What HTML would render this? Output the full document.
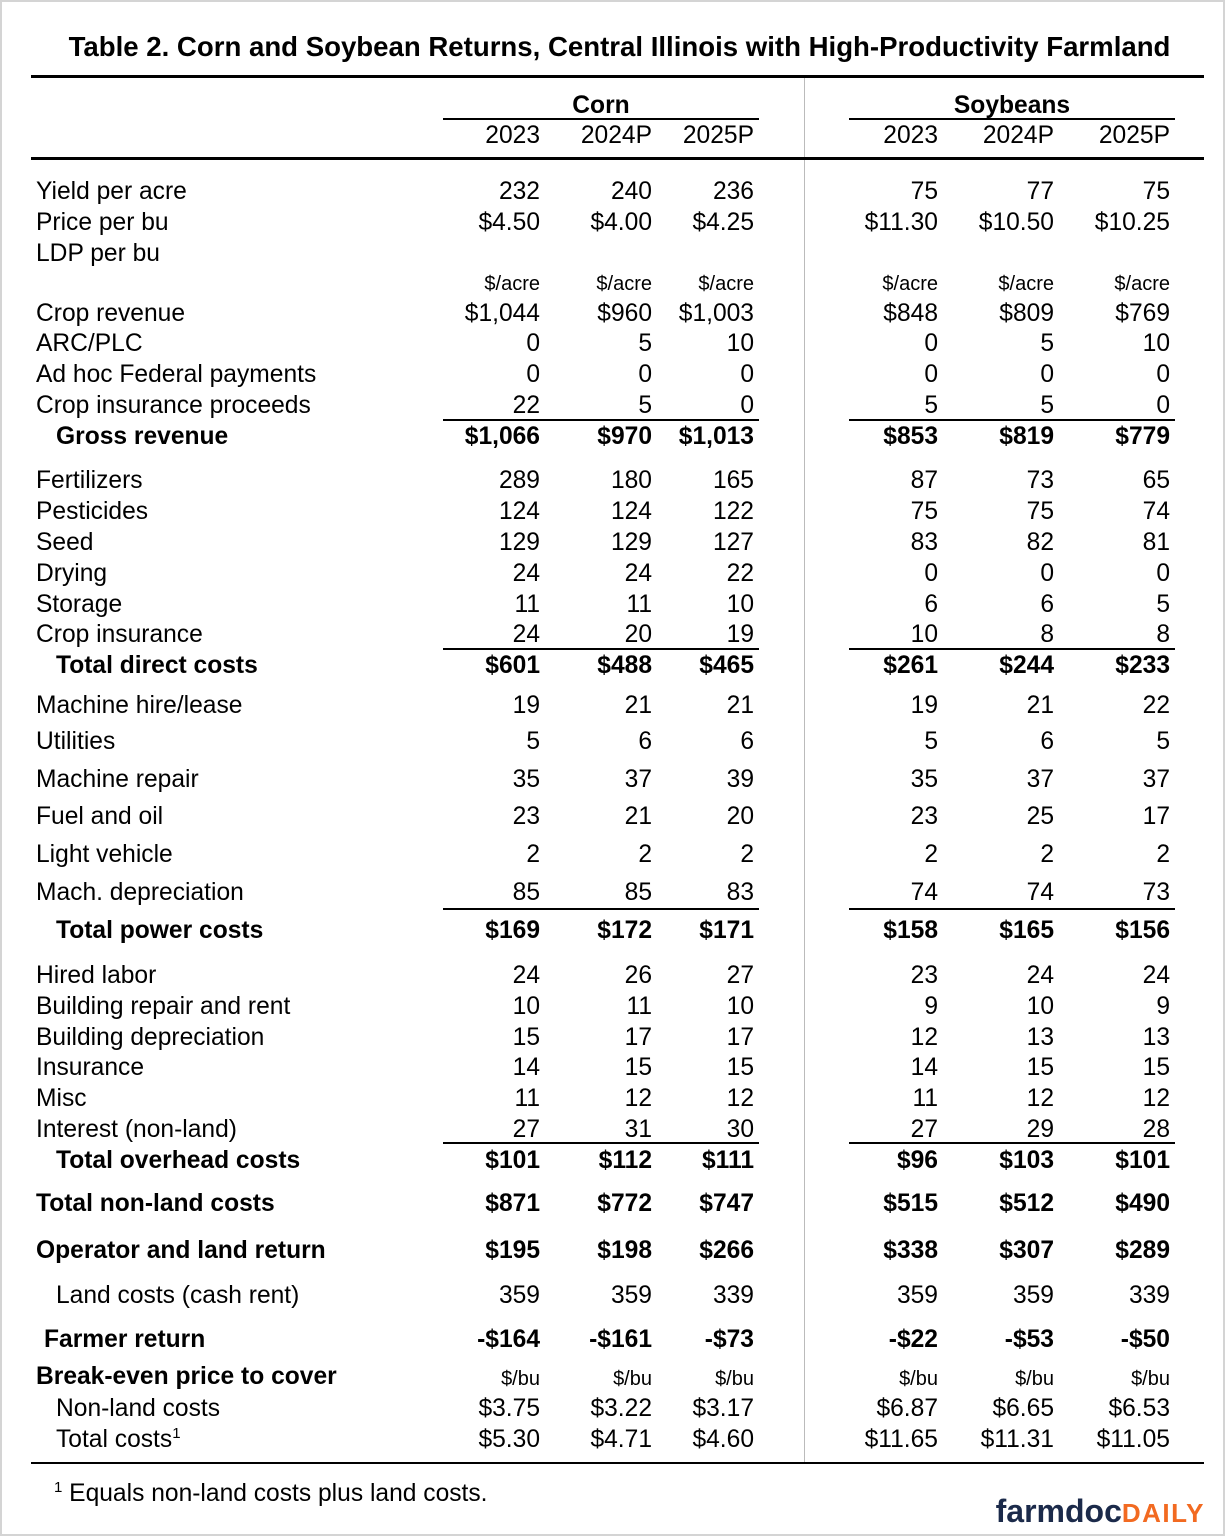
<!DOCTYPE html>
<html><head><meta charset="utf-8"><style>
body{margin:0;width:1225px;height:1536px;background:#fff;font-family:"Liberation Sans",Arial,sans-serif;color:#000;position:relative;overflow:hidden}
.frame{position:absolute;left:0;top:0;width:1221px;height:1532px;border:2px solid #d4d4d4}
.r{position:absolute;left:0;width:1225px;height:28px;line-height:28px;font-size:24.6px;margin-top:2px}
.r span{position:absolute;white-space:nowrap}
.l{left:36px}.i{left:56px}
.a{right:685px}.b{right:573px}.c{right:471px}.d{right:287px}.e{right:171px}.f{right:55px}
.s{font-size:20px}
.bd{font-weight:bold}
.h{position:absolute;background:#000}
</style></head><body>
<div class="frame"></div>
<div style="position:absolute;left:0;width:1225px;top:31px;text-align:center;font-weight:bold;font-size:27.6px;line-height:32px;padding-left:14px;box-sizing:border-box;white-space:nowrap">Table 2. Corn and Soybean Returns, Central Illinois with High-Productivity Farmland</div>
<div class="h" style="left:31px;top:75px;width:1173px;height:3px"></div>
<div style="position:absolute;left:804px;top:78px;width:1px;height:1384px;background:#bbb"></div>
<div class="r bd" style="top:90px"><span style="left:443px;width:316px;text-align:center">Corn</span><span style="left:849px;width:326px;text-align:center">Soybeans</span></div>
<div class="h" style="left:443px;top:118px;width:316px;height:2px"></div>
<div class="h" style="left:849px;top:118px;width:326px;height:2px"></div>
<div class="r" style="top:120px"><span class="a">2023</span><span class="b">2024P</span><span class="c">2025P</span><span class="d">2023</span><span class="e">2024P</span><span class="f">2025P</span></div>
<div class="h" style="left:31px;top:157px;width:1173px;height:3px"></div>

<div class="r" style="top:176px"><span class="l">Yield per acre</span><span class="a">232</span><span class="b">240</span><span class="c">236</span><span class="d">75</span><span class="e">77</span><span class="f">75</span></div>
<div class="r" style="top:207px"><span class="l">Price per bu</span><span class="a">$4.50</span><span class="b">$4.00</span><span class="c">$4.25</span><span class="d">$11.30</span><span class="e">$10.50</span><span class="f">$10.25</span></div>
<div class="r" style="top:238px"><span class="l">LDP per bu</span></div>
<div class="r s" style="top:268px"><span class="a">$/acre</span><span class="b">$/acre</span><span class="c">$/acre</span><span class="d">$/acre</span><span class="e">$/acre</span><span class="f">$/acre</span></div>
<div class="r" style="top:298px"><span class="l">Crop revenue</span><span class="a">$1,044</span><span class="b">$960</span><span class="c">$1,003</span><span class="d">$848</span><span class="e">$809</span><span class="f">$769</span></div>
<div class="r" style="top:328px"><span class="l">ARC/PLC</span><span class="a">0</span><span class="b">5</span><span class="c">10</span><span class="d">0</span><span class="e">5</span><span class="f">10</span></div>
<div class="r" style="top:359px"><span class="l">Ad hoc Federal payments</span><span class="a">0</span><span class="b">0</span><span class="c">0</span><span class="d">0</span><span class="e">0</span><span class="f">0</span></div>
<div class="r" style="top:390px"><span class="l">Crop insurance proceeds</span><span class="a">22</span><span class="b">5</span><span class="c">0</span><span class="d">5</span><span class="e">5</span><span class="f">0</span></div>
<div class="h" style="left:443px;top:419px;width:316px;height:2px"></div><div class="h" style="left:849px;top:419px;width:326px;height:2px"></div>
<div class="r bd" style="top:421px"><span class="i">Gross revenue</span><span class="a">$1,066</span><span class="b">$970</span><span class="c">$1,013</span><span class="d">$853</span><span class="e">$819</span><span class="f">$779</span></div>

<div class="r" style="top:465px"><span class="l">Fertilizers</span><span class="a">289</span><span class="b">180</span><span class="c">165</span><span class="d">87</span><span class="e">73</span><span class="f">65</span></div>
<div class="r" style="top:496px"><span class="l">Pesticides</span><span class="a">124</span><span class="b">124</span><span class="c">122</span><span class="d">75</span><span class="e">75</span><span class="f">74</span></div>
<div class="r" style="top:527px"><span class="l">Seed</span><span class="a">129</span><span class="b">129</span><span class="c">127</span><span class="d">83</span><span class="e">82</span><span class="f">81</span></div>
<div class="r" style="top:558px"><span class="l">Drying</span><span class="a">24</span><span class="b">24</span><span class="c">22</span><span class="d">0</span><span class="e">0</span><span class="f">0</span></div>
<div class="r" style="top:589px"><span class="l">Storage</span><span class="a">11</span><span class="b">11</span><span class="c">10</span><span class="d">6</span><span class="e">6</span><span class="f">5</span></div>
<div class="r" style="top:619px"><span class="l">Crop insurance</span><span class="a">24</span><span class="b">20</span><span class="c">19</span><span class="d">10</span><span class="e">8</span><span class="f">8</span></div>
<div class="h" style="left:443px;top:648px;width:316px;height:2px"></div><div class="h" style="left:849px;top:648px;width:326px;height:2px"></div>
<div class="r bd" style="top:650px"><span class="i">Total direct costs</span><span class="a">$601</span><span class="b">$488</span><span class="c">$465</span><span class="d">$261</span><span class="e">$244</span><span class="f">$233</span></div>

<div class="r" style="top:690px"><span class="l">Machine hire/lease</span><span class="a">19</span><span class="b">21</span><span class="c">21</span><span class="d">19</span><span class="e">21</span><span class="f">22</span></div>
<div class="r" style="top:726px"><span class="l">Utilities</span><span class="a">5</span><span class="b">6</span><span class="c">6</span><span class="d">5</span><span class="e">6</span><span class="f">5</span></div>
<div class="r" style="top:764px"><span class="l">Machine repair</span><span class="a">35</span><span class="b">37</span><span class="c">39</span><span class="d">35</span><span class="e">37</span><span class="f">37</span></div>
<div class="r" style="top:801px"><span class="l">Fuel and oil</span><span class="a">23</span><span class="b">21</span><span class="c">20</span><span class="d">23</span><span class="e">25</span><span class="f">17</span></div>
<div class="r" style="top:839px"><span class="l">Light vehicle</span><span class="a">2</span><span class="b">2</span><span class="c">2</span><span class="d">2</span><span class="e">2</span><span class="f">2</span></div>
<div class="r" style="top:877px"><span class="l">Mach. depreciation</span><span class="a">85</span><span class="b">85</span><span class="c">83</span><span class="d">74</span><span class="e">74</span><span class="f">73</span></div>
<div class="h" style="left:443px;top:908px;width:316px;height:2px"></div><div class="h" style="left:849px;top:908px;width:326px;height:2px"></div>
<div class="r bd" style="top:915px"><span class="i">Total power costs</span><span class="a">$169</span><span class="b">$172</span><span class="c">$171</span><span class="d">$158</span><span class="e">$165</span><span class="f">$156</span></div>

<div class="r" style="top:960px"><span class="l">Hired labor</span><span class="a">24</span><span class="b">26</span><span class="c">27</span><span class="d">23</span><span class="e">24</span><span class="f">24</span></div>
<div class="r" style="top:991px"><span class="l">Building repair and rent</span><span class="a">10</span><span class="b">11</span><span class="c">10</span><span class="d">9</span><span class="e">10</span><span class="f">9</span></div>
<div class="r" style="top:1022px"><span class="l">Building depreciation</span><span class="a">15</span><span class="b">17</span><span class="c">17</span><span class="d">12</span><span class="e">13</span><span class="f">13</span></div>
<div class="r" style="top:1052px"><span class="l">Insurance</span><span class="a">14</span><span class="b">15</span><span class="c">15</span><span class="d">14</span><span class="e">15</span><span class="f">15</span></div>
<div class="r" style="top:1083px"><span class="l">Misc</span><span class="a">11</span><span class="b">12</span><span class="c">12</span><span class="d">11</span><span class="e">12</span><span class="f">12</span></div>
<div class="r" style="top:1114px"><span class="l">Interest (non-land)</span><span class="a">27</span><span class="b">31</span><span class="c">30</span><span class="d">27</span><span class="e">29</span><span class="f">28</span></div>
<div class="h" style="left:443px;top:1142px;width:316px;height:2px"></div><div class="h" style="left:849px;top:1142px;width:326px;height:2px"></div>
<div class="r bd" style="top:1145px"><span class="i">Total overhead costs</span><span class="a">$101</span><span class="b">$112</span><span class="c">$111</span><span class="d">$96</span><span class="e">$103</span><span class="f">$101</span></div>

<div class="r bd" style="top:1188px"><span class="l">Total non-land costs</span><span class="a">$871</span><span class="b">$772</span><span class="c">$747</span><span class="d">$515</span><span class="e">$512</span><span class="f">$490</span></div>
<div class="r bd" style="top:1235px"><span class="l">Operator and land return</span><span class="a">$195</span><span class="b">$198</span><span class="c">$266</span><span class="d">$338</span><span class="e">$307</span><span class="f">$289</span></div>
<div class="r" style="top:1280px"><span class="i">Land costs (cash rent)</span><span class="a">359</span><span class="b">359</span><span class="c">339</span><span class="d">359</span><span class="e">359</span><span class="f">339</span></div>
<div class="r bd" style="top:1324px"><span style="left:44px">Farmer return</span><span class="a">-$164</span><span class="b">-$161</span><span class="c">-$73</span><span class="d">-$22</span><span class="e">-$53</span><span class="f">-$50</span></div>
<div class="r bd" style="top:1361px"><span class="l">Break-even price to cover</span></div>
<div class="r s" style="top:1363px"><span class="a">$/bu</span><span class="b">$/bu</span><span class="c">$/bu</span><span class="d">$/bu</span><span class="e">$/bu</span><span class="f">$/bu</span></div>
<div class="r" style="top:1393px"><span class="i">Non-land costs</span><span class="a">$3.75</span><span class="b">$3.22</span><span class="c">$3.17</span><span class="d">$6.87</span><span class="e">$6.65</span><span class="f">$6.53</span></div>
<div class="r" style="top:1424px"><span class="i">Total costs<sup style="font-size:15px;line-height:0">1</sup></span><span class="a">$5.30</span><span class="b">$4.71</span><span class="c">$4.60</span><span class="d">$11.65</span><span class="e">$11.31</span><span class="f">$11.05</span></div>
<div class="h" style="left:31px;top:1462px;width:1173px;height:2px"></div>
<div class="r" style="top:1478px"><span style="left:54px"><sup style="font-size:15px;line-height:0">1</sup> Equals non-land costs plus land costs.</span></div>
<div style="position:absolute;right:20px;top:1493px;font-size:32px;font-weight:bold;line-height:36px;white-space:nowrap"><span style="color:#1b2a4a">farmdoc</span><span style="color:#f26a21;font-size:26px;letter-spacing:1.5px">DAILY</span></div>
</body></html>
